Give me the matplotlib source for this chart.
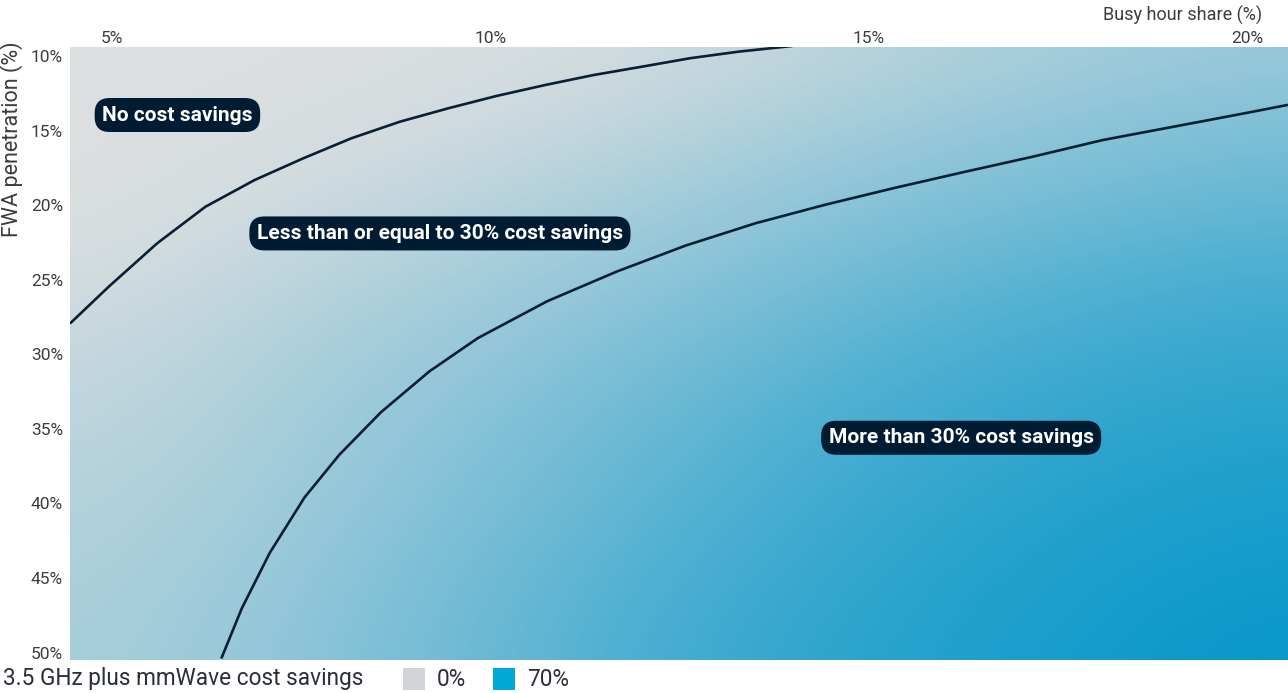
import numpy as np
import matplotlib.pyplot as plt
from matplotlib.colors import LinearSegmentedColormap
from matplotlib.patches import Rectangle

plt.rcParams['font.family'] = ['Roboto', 'DejaVu Sans']

# busy hour share (%) and FWA penetration (%) grid for the background
busy_share = [5, 7.5, 10, 12.5, 15, 17.5, 20]
fwa_pen = [10, 15, 20, 25, 30, 35, 40, 45, 50]
savings = [
    [0, 0, 1, 5, 12, 18, 22],
    [0, 1, 5, 12, 20, 26, 32],
    [0, 5, 12, 20, 28, 35, 40],
    [3, 11, 19, 27, 37, 44, 49],
    [7, 16, 24, 34, 44, 51, 55],
    [10, 19, 29, 40, 50, 56, 60],
    [13, 21, 32, 44, 54, 60, 64],
    [15, 24, 36, 48, 57, 63, 67],
    [17, 26, 38, 51, 59, 65, 70],
]

# boundary: no savings / <=30% savings
b1_x = [4.44, 4.95, 5.59, 6.23, 6.88, 7.52, 8.16, 8.80, 9.44, 10.08,
        10.72, 11.36, 12.00, 12.64, 13.28, 13.99]
b1_y = [27.94, 25.48, 22.57, 20.11, 18.32, 16.87, 15.52, 14.41, 13.51, 12.68,
        11.95, 11.28, 10.72, 10.15, 9.71, 9.33]
# boundary: <=30% / >30% savings
b2_x = [6.44, 6.71, 7.08, 7.54, 8.00, 8.55, 9.19, 9.83, 10.75, 11.67,
        12.58, 13.50, 14.42, 15.33, 16.25, 17.17, 18.09, 19.00, 19.92, 20.54]
b2_y = [50.40, 47.05, 43.32, 39.60, 36.74, 33.89, 31.15, 28.92, 26.44, 24.45,
        22.71, 21.22, 19.98, 18.86, 17.79, 16.75, 15.64, 14.77, 13.89, 13.28]

region_labels = ['No cost savings',
                 'Less than or equal to 30% cost savings',
                 'More than 30% cost savings']
label_x = [5.86, 9.33, 16.22]
label_y = [13.96, 21.9, 35.6]

xticks = [5, 10, 15, 20]
yticks = [10, 15, 20, 25, 30, 35, 40, 45, 50]

gray = '#dcdfe0'
blue = '#0898ca'
cmap = LinearSegmentedColormap.from_list('savings', [gray, blue])
txt_col = '#3c3c3c'

fig = plt.figure(figsize=(12.88, 6.93), dpi=100)
ax = fig.add_axes([70 / 1288, 33 / 693, 1218 / 1288, 613 / 693])

xmin, xmax = 4.44, 20.54
ymin, ymax = 9.4, 50.5
ax.imshow(np.array(savings), cmap=cmap, vmin=0, vmax=70, origin='upper',
          extent=[busy_share[0] - 1.25, busy_share[-1] + 1.25,
                  fwa_pen[-1] + 2.5, fwa_pen[0] - 2.5],
          interpolation='bicubic', aspect='auto')

ax.plot(b1_x, b1_y, color='#0a1f33', lw=1.9, solid_capstyle='butt',
        solid_joinstyle='round')
ax.plot(b2_x, b2_y, color='#0a1f33', lw=1.9, solid_capstyle='butt',
        solid_joinstyle='round')

for txt, x, y in zip(region_labels, label_x, label_y):
    ax.text(x, y, txt, ha='center', va='center', color='white',
            fontsize=15, fontweight='bold',
            bbox=dict(boxstyle='round,pad=0.36,rounding_size=0.72',
                      fc='#001c33', ec='none'))

ax.set_xlim(xmin, xmax)
ax.set_ylim(ymax, ymin)
ax.xaxis.tick_top()
ax.set_xticks(xticks)
ax.set_xticklabels([f'{t}%' for t in xticks])
ax.set_yticks(yticks)
ax.set_yticklabels([f'{t}%' for t in yticks])
ax.tick_params(length=0, labelsize=12.5, colors=txt_col)
ax.tick_params(axis='x', pad=1)
ax.tick_params(axis='y', pad=5)
for s in ax.spines.values():
    s.set_visible(False)

fig.text(1262 / 1288, 1 - 15 / 693, 'Busy hour share (%)', ha='right',
         va='center', fontsize=13, color=txt_col)
fig.text(12 / 1288, 1 - 139 / 693, 'FWA penetration (%)', rotation=90,
         ha='center', va='center', fontsize=15.5, color=txt_col)

# legend strip
leg_y = 1 - 679 / 693
fig.text(3 / 1288, leg_y, '3.5 GHz plus mmWave cost savings',
         ha='left', va='center', fontsize=16.3, color='#2a2f38')
fig.add_artist(Rectangle((403 / 1288, 1 - 690 / 693), 22 / 1288, 22 / 693,
                         transform=fig.transFigure, fc='#d2d5d8', ec='none'))
fig.text(437 / 1288, leg_y, '0%', ha='left', va='center',
         fontsize=16.3, color='#2a2f38')
fig.add_artist(Rectangle((493 / 1288, 1 - 690 / 693), 22 / 1288, 22 / 693,
                         transform=fig.transFigure, fc='#00a8d5', ec='none'))
fig.text(527 / 1288, leg_y, '70%', ha='left', va='center',
         fontsize=16.3, color='#2a2f38')

fig.savefig('out.png', dpi=100)
